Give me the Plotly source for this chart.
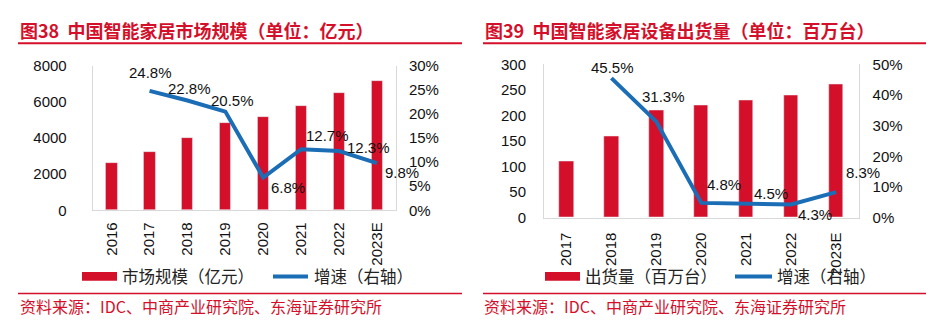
import plotly.graph_objects as go

W, H = 948, 328

# ---------------- data ----------------
years_a = ["2016", "2017", "2018", "2019", "2020", "2021", "2022", "2023E"]
market_size = [2610, 3260, 4000, 4820, 5150, 5800, 6520, 7160]          # 亿元
market_growth = [None, 24.8, 22.8, 20.5, 6.8, 12.7, 12.3, 9.8]          # %

years_b = ["2017", "2018", "2019", "2020", "2021", "2022", "2023E"]
shipments = [110, 160, 210, 220, 230, 240, 260]                          # 百万台
ship_growth = [None, 45.5, 31.3, 4.8, 4.5, 4.3, 8.3]                    # %

y_ticks_a = [0, 2000, 4000, 6000, 8000]
y2_ticks_a = [0, 5, 10, 15, 20, 25, 30]
y_ticks_b = [0, 50, 100, 150, 200, 250, 300]
y2_ticks_b = [0, 10, 20, 30, 40, 50]

titles = ["图38  中国智能家居市场规模（单位：亿元）", "图39  中国智能家居设备出货量（单位：百万台）"]
bar_names = ["市场规模（亿元）", "出货量（百万台）"]
line_name = "增速（右轴）"
source_text = "资料来源：IDC、中商产业研究院、东海证券研究所"

# ---------------- styles ----------------
RED = "#D40F2A"
BLUE = "#1B6DB5"
AXIS_GREY = "#D9D9D9"
TXT = "#111111"
NUM_FONT = "Liberation Sans, Arial, Noto Sans CJK SC"
CJK_FONT = "Noto Sans CJK SC, Liberation Sans"

# label offsets (px) for growth labels, per point
off_a = [None, (1, 18), (2, 12), (7, 11), (25, -10), (26, 14), (29, 4), (25, -9)]
off_b = [None, (1, 11), (7, 25), (23, 18), (25, 10), (24, -10), (27, 20)]


def px_x(x):
    return x / W


def px_y(y):
    return 1 - y / H


fig = go.Figure()

# left panel traces
fig.add_trace(go.Bar(x=years_a, y=market_size, marker_color=RED, width=0.30,
                     xaxis="x", yaxis="y", showlegend=False))
fig.add_trace(go.Scatter(x=years_a, y=market_growth, mode="lines",
                         line=dict(color=BLUE, width=4), xaxis="x", yaxis="y2",
                         showlegend=False))
# right panel traces
fig.add_trace(go.Bar(x=years_b, y=shipments, marker_color=RED, width=0.32,
                     xaxis="x3", yaxis="y3", showlegend=False))
fig.add_trace(go.Scatter(x=years_b, y=ship_growth, mode="lines",
                         line=dict(color=BLUE, width=4), xaxis="x3", yaxis="y4",
                         showlegend=False))

tick_font = dict(family=NUM_FONT, size=15, color=TXT)

xa_common = dict(type="category", showline=True, linecolor=AXIS_GREY, linewidth=1,
                 tickangle=-90, tickfont=tick_font, showgrid=False, ticks="",
                 zeroline=False, fixedrange=True)
ya_common = dict(showline=True, linecolor=AXIS_GREY, linewidth=1, showgrid=False,
                 zeroline=False, ticks="", tickfont=tick_font)

annotations = []
shapes = []

layout = dict(
    width=W, height=H, margin=dict(l=0, r=0, t=0, b=0),
    paper_bgcolor="white", plot_bgcolor="white", bargap=0,
    xaxis=dict(domain=[px_x(92.7), px_x(395.9)], anchor="y", ticklabelstandoff=5,
               range=[-0.5, len(years_a) - 0.5], categoryorder="array",
               categoryarray=years_a, **xa_common),
    yaxis=dict(domain=[px_y(212.3), px_y(60)], anchor="x", range=[0, 8000],
               tickvals=y_ticks_a, ticklabelstandoff=22, **ya_common),
    yaxis2=dict(domain=[px_y(212.3), px_y(60)], anchor="x", overlaying="y", side="right",
                range=[0, 30], tickvals=y2_ticks_a,
                ticktext=[f"{v}%" for v in y2_ticks_a], ticklabelstandoff=9,
                **ya_common),
    xaxis3=dict(domain=[px_x(544), px_x(858.6)], anchor="y3", ticklabelstandoff=8,
                range=[-0.5, len(years_b) - 0.5], categoryorder="array",
                categoryarray=years_b, **xa_common),
    yaxis3=dict(domain=[px_y(220), px_y(58.3)], anchor="x3", range=[0, 300],
                tickvals=y_ticks_b, ticklabelstandoff=14, **ya_common),
    yaxis4=dict(domain=[px_y(220), px_y(58.3)], anchor="x3", overlaying="y3", side="right",
                range=[0, 50], tickvals=y2_ticks_b,
                ticktext=[f"{v}%" for v in y2_ticks_b], ticklabelstandoff=10,
                **ya_common),
)

# growth value labels, placed by category index on each panel's x axis
for vals, offs, xr, yr in [(market_growth, off_a, "x", "y2"),
                           (ship_growth, off_b, "x3", "y4")]:
    for i, (v, o) in enumerate(zip(vals, offs)):
        if v is None:
            continue
        annotations.append(dict(x=i, y=v, xref=xr, yref=yr, text=f"{v}%",
                                showarrow=False, xshift=o[0], yshift=o[1],
                                font=dict(family=NUM_FONT, size=15, color=TXT)))

# panel headers, rules, legends and sources
panels = [
    dict(title_x=18, rule=(18, 462), leg_bar=(82, 117), leg_bar_txt=120,
         leg_line=(273, 308), leg_line_txt=312, src_x=18),
    dict(title_x=483, rule=(483, 926), leg_bar=(545, 580), leg_bar_txt=583,
         leg_line=(735, 772), leg_line_txt=775, src_x=482),
]
for i, p in enumerate(panels):
    annotations.append(dict(x=px_x(p["title_x"]), y=px_y(22), xref="paper", yref="paper",
                            xanchor="left", yanchor="middle", showarrow=False,
                            text=f"<b>{titles[i]}</b>",
                            font=dict(family=CJK_FONT, size=18, color=RED)))
    for yy in (36, 300):
        shapes.append(dict(type="line", xref="paper", yref="paper",
                           x0=px_x(p["rule"][0]), x1=px_x(p["rule"][1]),
                           y0=px_y(yy), y1=px_y(yy),
                           line=dict(color=RED, width=2 if yy == 36 else 1.5)))
    # legend: bar swatch
    shapes.append(dict(type="rect", xref="paper", yref="paper",
                       x0=px_x(p["leg_bar"][0]), x1=px_x(p["leg_bar"][1]),
                       y0=px_y(286.5), y1=px_y(277.3), fillcolor=RED, line=dict(width=0)))
    annotations.append(dict(x=px_x(p["leg_bar_txt"]), y=px_y(282), xref="paper",
                            yref="paper", xanchor="left", yanchor="middle",
                            showarrow=False, text=bar_names[i],
                            font=dict(family=CJK_FONT, size=16.5, color="#222222")))
    # legend: line swatch
    shapes.append(dict(type="line", xref="paper", yref="paper",
                       x0=px_x(p["leg_line"][0]), x1=px_x(p["leg_line"][1]),
                       y0=px_y(282), y1=px_y(282), line=dict(color=BLUE, width=4)))
    annotations.append(dict(x=px_x(p["leg_line_txt"]), y=px_y(282), xref="paper",
                            yref="paper", xanchor="left", yanchor="middle",
                            showarrow=False, text=line_name,
                            font=dict(family=CJK_FONT, size=16.5, color="#222222")))
    # source line
    annotations.append(dict(x=px_x(p["src_x"]), y=px_y(313.5), xref="paper",
                            yref="paper", xanchor="left", yanchor="middle",
                            showarrow=False, text=source_text,
                            font=dict(family=CJK_FONT, size=16, color=RED)))

layout["annotations"] = annotations
layout["shapes"] = shapes
fig.update_layout(**layout)

fig.write_html("out.html")
